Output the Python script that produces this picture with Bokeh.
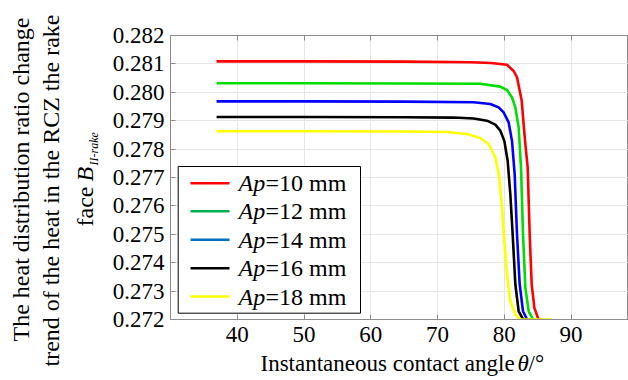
import math
from bokeh.plotting import figure
from bokeh.models import (Label, BoxAnnotation, Arrow, FixedTicker,
                          PrintfTickFormatter, Range1d, LinearAxis)
from bokeh.layouts import row, column
from bokeh.embed import file_html
from bokeh.resources import INLINE

# ---------------- data ----------------
series_names = ["=10 mm", "=12 mm", "=14 mm", "=16 mm", "=18 mm"]
line_colors = ["#FF0000", "#00DD00", "#0000FF", "#000000", "#FFFF00"]
legend_colors = ["#FF0000", "#00B050", "#0070C0", "#000000", "#FFFF00"]

theta_10 = [36.9, 50, 65, 75, 78, 80.4, 81.4, 81.9, 82.6, 83.1, 83.5, 83.8, 84.1, 84.5, 85.1, 85.6]
ratio_10 = [0.28109, 0.28109, 0.28108, 0.28106, 0.28103, 0.28097, 0.28075, 0.28053, 0.27971,
            0.27830, 0.27735, 0.27500, 0.27324, 0.27241, 0.27201, 0.27200]

theta_12 = [36.9, 50, 65, 76.4, 79.4, 80.4, 81.15, 81.65, 82.15, 82.5, 82.8, 83.15, 83.65, 84.3, 84.8]
ratio_12 = [0.28032, 0.28032, 0.28031, 0.28030, 0.28020, 0.28008, 0.27982, 0.27947, 0.27876,
            0.27735, 0.27500, 0.27312, 0.27229, 0.27201, 0.27200]

theta_14 = [36.9, 50, 65, 75.4, 77.9, 79.15, 79.9, 80.65, 81.15, 81.55, 81.9, 82.3, 82.8, 83.4, 84.0]
ratio_14 = [0.27968, 0.27968, 0.27967, 0.27965, 0.27959, 0.27947, 0.27929, 0.27894, 0.27829,
            0.27712, 0.27500, 0.27324, 0.27229, 0.27201, 0.27200]

theta_16 = [36.9, 50, 65, 72.4, 75.4, 77.4, 78.65, 79.4, 80.0, 80.5, 80.9, 81.25, 81.65, 82.15, 82.8, 83.5]
ratio_16 = [0.27913, 0.27913, 0.27912, 0.27911, 0.27908, 0.27900, 0.27886, 0.27865, 0.27829,
            0.27759, 0.27641, 0.27500, 0.27324, 0.27229, 0.27201, 0.27200]

theta_18 = [36.9, 50, 65, 71.4, 74.4, 76.4, 77.65, 78.65, 79.25, 79.65, 80.0, 80.4, 80.9, 81.65, 82.4, 87.2]
ratio_18 = [0.27863, 0.27863, 0.27862, 0.27860, 0.27853, 0.27839, 0.27818, 0.27771, 0.27700,
            0.27594, 0.27476, 0.27359, 0.27265, 0.27218, 0.27200, 0.27200]

thetas = [theta_10, theta_12, theta_14, theta_16, theta_18]
ratios = [ratio_10, ratio_12, ratio_14, ratio_16, ratio_18]

x_ticks = [40, 50, 60, 70, 80, 90]
y_ticks = [0.272, 0.273, 0.274, 0.275, 0.276, 0.277, 0.278, 0.279, 0.280, 0.281, 0.282]

FONT = "Liberation Serif"
AX_GRAY = "#8c8c8c"


def blank_fig(w, h):
    f = figure(width=w, height=h, output_backend="svg", toolbar_location=None,
               x_range=Range1d(0, 1), y_range=Range1d(0, 1),
               x_axis_location=None, y_axis_location=None,
               min_border=0, min_border_left=0, min_border_right=0,
               min_border_top=0, min_border_bottom=0)
    f.outline_line_color = None
    f.grid.visible = False
    f.background_fill_color = "white"
    f.border_fill_color = "white"
    return f


def txt(x, y, s, size, italic=False, angle=0.0, align="left"):
    return Label(x=x, y=y, x_units="screen", y_units="screen", angle=angle,
                 text=s, text_font=FONT, text_font_size=size,
                 text_font_style="italic" if italic else "normal",
                 text_color="black", text_baseline="middle", text_align=align)


# ---------------- main plot ----------------
p = figure(width=524, height=348, output_backend="svg", toolbar_location=None,
           x_range=Range1d(30, 98.6), y_range=Range1d(0.272, 0.282),
           min_border_left=66, min_border_right=0, min_border_top=35,
           min_border_bottom=29)
p.background_fill_color = "white"
p.border_fill_color = "white"
p.outline_line_color = AX_GRAY

for th, r, c in zip(thetas, ratios, line_colors):
    p.line(th, r, line_color=c, line_width=2.6, line_join="round")

for ax, tk in ((p.xaxis[0], x_ticks), (p.yaxis[0], y_ticks)):
    ax.ticker = FixedTicker(ticks=tk)
    ax.axis_line_color = AX_GRAY
    ax.major_tick_line_color = AX_GRAY
    ax.major_tick_in = 5
    ax.major_tick_out = 0
    ax.minor_tick_line_color = None
    ax.major_label_text_font = FONT
    ax.major_label_text_font_size = "23px"
    ax.major_label_text_color = "black"
p.xaxis[0].major_label_standoff = 7
p.yaxis[0].major_label_standoff = 6
p.yaxis[0].formatter = PrintfTickFormatter(format="%.3f")

top_ax = LinearAxis(ticker=FixedTicker(ticks=x_ticks),
                    major_label_overrides={t: "" for t in x_ticks},
                    axis_line_color=AX_GRAY, major_tick_line_color=AX_GRAY,
                    major_tick_in=5, major_tick_out=0, minor_tick_line_color=None,
                    major_label_standoff=0)
p.add_layout(top_ax, "above")

p.xgrid.ticker = FixedTicker(ticks=x_ticks)
p.ygrid.ticker = FixedTicker(ticks=y_ticks)
p.grid.grid_line_color = "#e6e6e6"
p.grid.grid_line_width = 1

# legend (custom, frame-relative screen units)
p.add_layout(BoxAnnotation(left=7.7, right=190, bottom=6.3, top=153,
                           left_units="screen", right_units="screen",
                           bottom_units="screen", top_units="screen",
                           fill_color="white", fill_alpha=1.0,
                           line_color="black", line_width=1, line_alpha=1.0))
row_centers = [136.3, 108.3, 79.7, 51.3, 23.0]
for yc, name, col in zip(row_centers, series_names, legend_colors):
    p.add_layout(Arrow(end=None, x_start=20, x_end=59, y_start=yc, y_end=yc,
                       start_units="screen", end_units="screen",
                       line_color=col, line_width=2.6))
    p.add_layout(txt(68, yc, "Ap", "24px", italic=True))
    p.add_layout(txt(95, yc, name, "24px"))

# ---------------- x axis title strip (frame aligned with main frame) ----------------
xt = blank_fig(524, 32)
xt.add_layout(txt(90, 16.6, "Instantaneous contact angle", "23px"))
xt.add_layout(txt(347, 16.6, "θ", "23px", italic=True))
xt.add_layout(txt(358, 16.6, "/°", "23px"))

# ---------------- y axis title strip ----------------
rot = math.pi / 2
yt = blank_fig(104, 380)
yt.add_layout(txt(20, 201, "The heat distribution ratio change", "24px", angle=rot, align="center"))
yt.add_layout(txt(50, 190, "trend of the heat in the RCZ the rake", "24px", angle=rot, align="center"))
yt.add_layout(txt(84, 154, "face", "24px", angle=rot))
yt.add_layout(txt(84, 199, "B", "24px", italic=True, angle=rot))
yt.add_layout(txt(93.5, 215, "II-rake", "12px", italic=True, angle=rot))

layout = row(yt, column(p, xt, spacing=0), spacing=0)
open("out.html", "w").write(file_html(layout, INLINE))
